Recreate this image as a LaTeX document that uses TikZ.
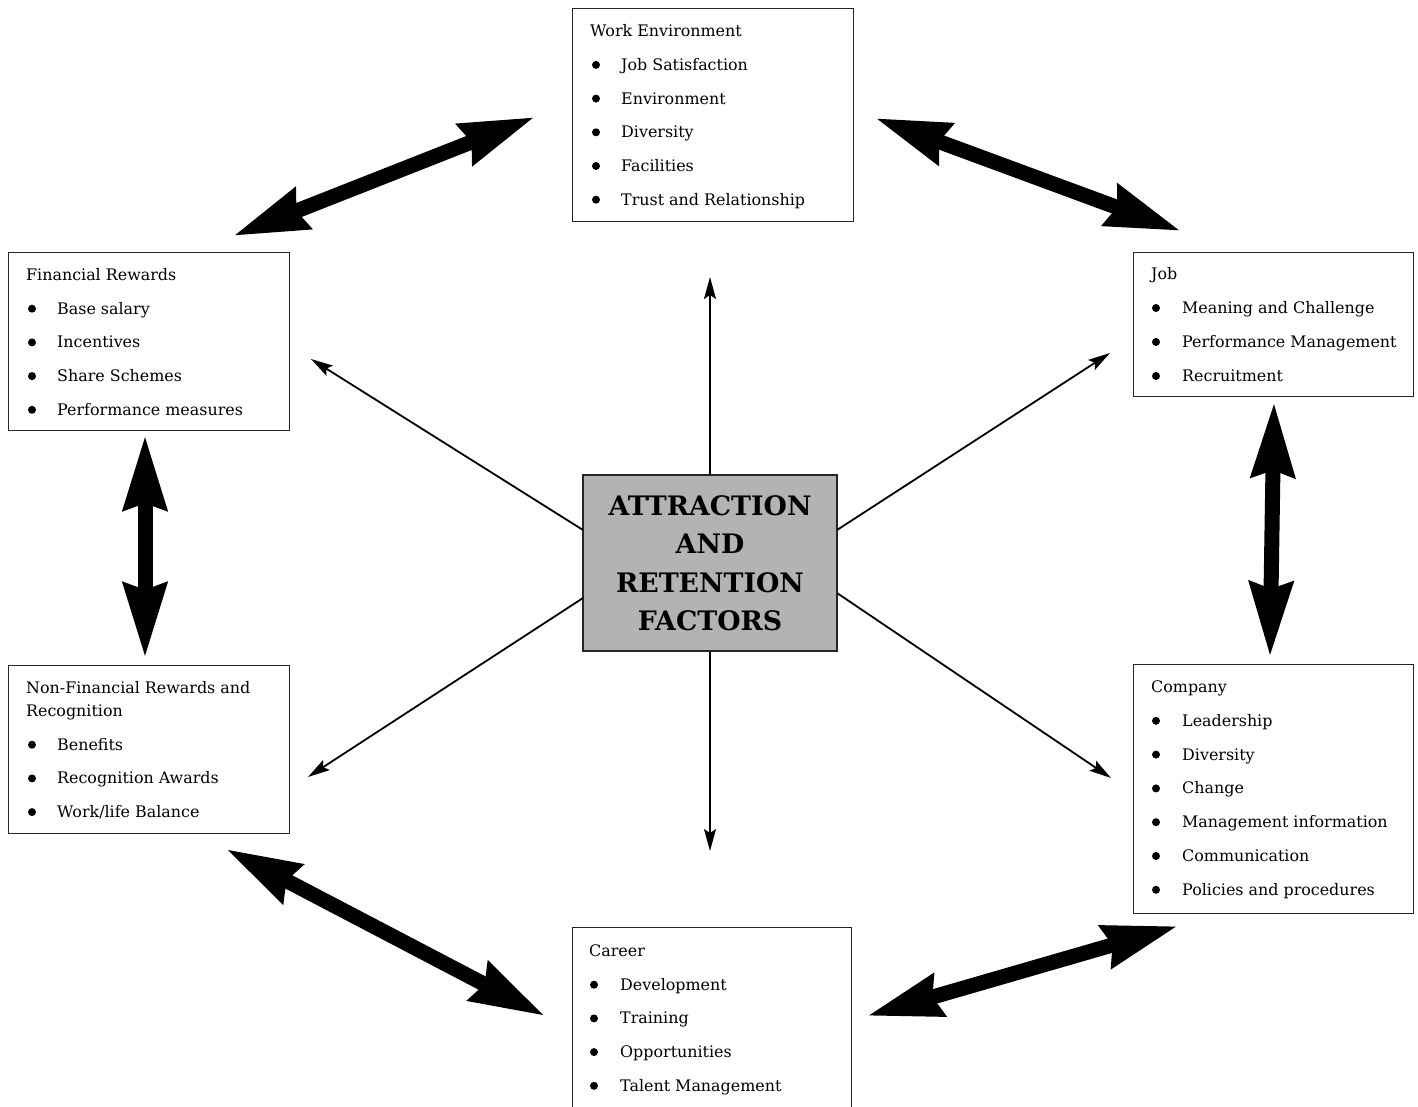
\documentclass[tikz,border=0pt]{standalone}
\usepackage{fontspec}
\setmainfont{DejaVu Serif}
\usetikzlibrary{arrows.meta}
\definecolor{centergray}{RGB}{179,179,179}
\begin{document}
\begin{tikzpicture}[x=1pt,y=-1pt,
  box/.style={draw=black!85,line width=1.2pt,fill=white,anchor=north west,inner sep=0pt},
  txt/.style={anchor=base west,inner sep=0pt,font=\fontsize{15.9}{20}\selectfont},
  thin/.style={line width=1.8pt,-{Stealth[length=22pt,width=12pt,inset=4pt]}},
  thick/.style={line width=15pt,{Stealth[length=74pt,width=42pt,inset=6pt]}-{Stealth[length=74pt,width=42pt,inset=6pt]}},
  dot/.style={circle,fill=black,inner sep=0pt,minimum size=8pt}]
\useasboundingbox (0,0) rectangle (1418,1106);
\clip (0,0) rectangle (1418,1106);

% boxes
\node[box,minimum width=281pt,minimum height=213pt] (we) at (572,8) {};
\node[box,minimum width=281pt,minimum height=178pt] (fr) at (8,252) {};
\node[box,minimum width=280pt,minimum height=144pt] (job) at (1133,252) {};
\node[box,minimum width=281pt,minimum height=168pt] (nfr) at (8,665) {};
\node[box,minimum width=280pt,minimum height=249pt] (co) at (1133,664) {};
\node[box,minimum width=279pt,minimum height=220pt] (car) at (572,927) {};
\node[draw=black!85,line width=1.2pt,fill=centergray,minimum width=254pt,minimum height=176pt,inner sep=0pt,align=center,
  font=\fontsize{26.8}{38.5}\selectfont\bfseries] (ctr) at (710,563) {ATTRACTION\\AND\\RETENTION\\FACTORS};

% Work Environment
\node[txt] (we0) at (590,36.7) {Work Environment};
\foreach \t [count=\i] in {Job Satisfaction,Environment,Diversity,Facilities,Trust and Relationship}{
  \node[dot] (wed\i) at (596,{36.7+33.7*\i-5.5}) {};
  \node[txt] (we\i) at (621,{36.7+33.7*\i}) {\t};
}
% Financial Rewards
\node[txt] (fr0) at (26,280.5) {Financial Rewards};
\foreach \t [count=\i] in {Base salary,Incentives,Share Schemes,Performance measures}{
  \node[dot] (frd\i) at (32,{280.5+33.7*\i-5.5}) {};
  \node[txt] (fr\i) at (57,{280.5+33.7*\i}) {\t};
}
% Job
\node[txt] (job0) at (1151,279.5) {Job};
\foreach \t [count=\i] in {Meaning and Challenge,Performance Management,Recruitment}{
  \node[dot] (jobd\i) at (1156,{279.5+34*\i-5.5}) {};
  \node[txt] (job\i) at (1182,{279.5+34*\i}) {\t};
}
% Non-Financial
\node[txt] (nfr0) at (26,693.5) {Non-Financial Rewards and};
\node[txt] (nfr00) at (26,716.5) {Recognition};
\foreach \t [count=\i] in {Benefits,Recognition Awards,Work/life Balance}{
  \node[dot] (nfrd\i) at (32,{716.5+33.7*\i-5.5}) {};
  \node[txt] (nfr\i) at (57,{716.5+33.7*\i}) {\t};
}
% Company
\node[txt] (co0) at (1151,692.5) {Company};
\foreach \t [count=\i] in {Leadership,Diversity,Change,Management information,Communication,Policies and procedures}{
  \node[dot] (cod\i) at (1156,{692.5+33.8*\i-5.5}) {};
  \node[txt] (co\i) at (1182,{692.5+33.8*\i}) {\t};
}
% Career
\node[txt] (car0) at (589,956.5) {Career};
\foreach \t [count=\i] in {Development,Training,Opportunities,Talent Management}{
  \node[dot] (card\i) at (594,{956.5+33.7*\i-5.5}) {};
  \node[txt] (car\i) at (620,{956.5+33.7*\i}) {\t};
}

% thin arrow coordinates
\coordinate (sUL) at (583,530);
\coordinate (sUR) at (837,530);
\coordinate (sLL) at (583,598);
\coordinate (sLR) at (837,593);
\coordinate (tU) at (710,277);
\coordinate (tD) at (710,851);
\coordinate (tUL) at (311,359);
\coordinate (tUR) at (1110,353);
\coordinate (tLL) at (308,777);
\coordinate (tLR) at (1111,778);
\draw[thin] (ctr.north) -- (tU);
\draw[thin] (ctr.south) -- (tD);
\draw[thin] (sUL) -- (tUL);
\draw[thin] (sUR) -- (tUR);
\draw[thin] (sLL) -- (tLL);
\draw[thin] (sLR) -- (tLR);

% thick double arrows
\coordinate (weL) at (535,117);
\coordinate (frT) at (233,236);
\coordinate (weR) at (875,118);
\coordinate (jobT) at (1181,231);
\coordinate (frB) at (145,435);
\coordinate (nfrT) at (145,658);
\coordinate (jobB) at (1274,402);
\coordinate (coT) at (1270,657);
\coordinate (nfrB) at (226,849);
\coordinate (carL) at (545,1016);
\coordinate (carR) at (867,1016);
\coordinate (coB) at (1178,926);
\draw[thick] (frT) -- (weL);
\draw[thick] (weR) -- (jobT);
\draw[thick] (frB) -- (nfrT);
\draw[thick] (jobB) -- (coT);
\draw[thick] (nfrB) -- (carL);
\draw[thick] (carR) -- (coB);
\end{tikzpicture}
\end{document}
